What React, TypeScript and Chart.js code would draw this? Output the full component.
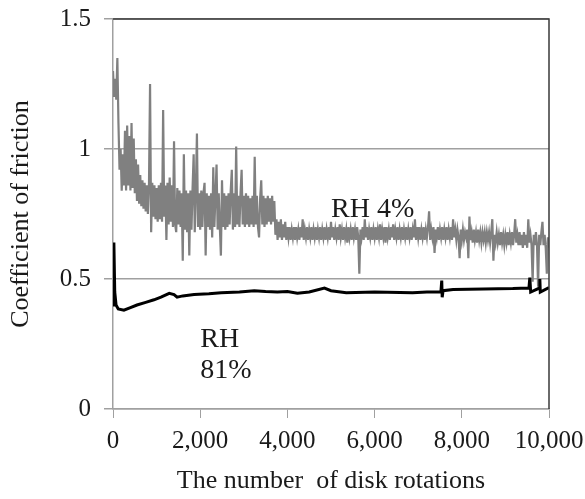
import React, { useEffect, useRef } from "react";
import { Chart, registerables } from "chart.js";

Chart.register(...registerables);

// RH 4% series: sampled every 25 disk rotations, 0 .. 10,000
const GRAY_STEP = 25;
const rh4Values: number[] = [
  // 0 .. 500
  1.30, 1.20, 1.27, 1.19, 1.35, 1.10, 0.92, 1.00, 0.84, 0.98,
  0.86, 1.07, 0.84, 1.09, 0.86, 1.05, 0.84, 1.10, 0.85, 1.04, 0.83,
  // 525 .. 1000
  0.96, 0.80, 0.94, 0.79, 0.90, 0.78, 0.88, 0.77, 0.87, 0.76,
  0.86, 0.75, 0.86, 1.25, 0.68, 0.87, 0.74, 0.86, 0.73, 0.85,
  // 1025 .. 1500
  0.72, 0.86, 0.73, 0.87, 0.72, 1.15, 0.74, 0.86, 0.65, 0.87,
  0.71, 0.89, 0.72, 0.86, 0.70, 1.03, 0.71, 0.68, 0.85, 0.71,
  // 1525 .. 2000
  0.84, 0.70, 0.83, 0.57, 0.98, 0.69, 0.84, 0.68, 0.83, 0.59,
  0.84, 0.69, 0.85, 0.98, 0.68, 0.84, 1.06, 0.70, 0.83, 0.69,
  // 2025 .. 2500
  0.84, 0.70, 0.83, 0.87, 0.59, 0.83, 0.70, 0.82, 0.69, 0.83,
  0.66, 0.93, 0.70, 0.82, 0.94, 0.69, 0.83, 0.70, 0.59, 0.88,
  // 2525 .. 3000
  0.70, 0.83, 0.69, 0.82, 0.70, 0.83, 0.71, 0.84, 0.92, 0.69,
  0.83, 0.70, 1.01, 0.71, 0.82, 0.70, 0.83, 0.92, 0.71, 0.82,
  // 3025 .. 3500
  0.70, 0.83, 0.71, 0.82, 0.70, 0.81, 0.71, 0.82, 0.70, 0.97,
  0.71, 0.82, 0.70, 0.66, 0.81, 0.88, 0.71, 0.82, 0.70, 0.81,
  // 3525 .. 4000
  0.71, 0.82, 0.72, 0.81, 0.71, 0.82, 0.72, 0.80, 0.67, 0.73,
  0.65, 0.72, 0.66, 0.73, 0.65, 0.71, 0.66, 0.72, 0.65, 0.70,
  // 4025 .. 4500
  0.66, 0.70, 0.65, 0.69, 0.66, 0.70, 0.65, 0.70, 0.66, 0.69,
  0.65, 0.70, 0.66, 0.73, 0.65, 0.69, 0.66, 0.70, 0.65, 0.69,
  // 4525 .. 5000
  0.66, 0.70, 0.65, 0.69, 0.66, 0.70, 0.65, 0.69, 0.66, 0.70,
  0.65, 0.69, 0.66, 0.70, 0.65, 0.69, 0.66, 0.70, 0.65, 0.72,
  // 5025 .. 5500
  0.66, 0.70, 0.65, 0.69, 0.66, 0.70, 0.65, 0.71, 0.66, 0.69,
  0.65, 0.70, 0.66, 0.69, 0.64, 0.70, 0.66, 0.69, 0.65, 0.70,
  // 5525 .. 6000
  0.66, 0.69, 0.65, 0.70, 0.66, 0.52, 0.69, 0.66, 0.70, 0.65,
  0.73, 0.66, 0.70, 0.65, 0.69, 0.66, 0.70, 0.65, 0.69, 0.66,
  // 6025 .. 6500
  0.70, 0.65, 0.69, 0.66, 0.71, 0.65, 0.69, 0.66, 0.70, 0.64,
  0.70, 0.66, 0.69, 0.65, 0.70, 0.66, 0.71, 0.65, 0.69, 0.66,
  // 6525 .. 7000
  0.70, 0.65, 0.69, 0.66, 0.70, 0.65, 0.69, 0.66, 0.70, 0.65,
  0.69, 0.66, 0.70, 0.65, 0.69, 0.66, 0.73, 0.65, 0.70, 0.66,
  // 7025 .. 7500
  0.70, 0.65, 0.69, 0.66, 0.70, 0.65, 0.69, 0.66, 0.70, 0.76,
  0.65, 0.69, 0.66, 0.70, 0.60, 0.69, 0.66, 0.70, 0.65, 0.69,
  // 7525 .. 8000
  0.66, 0.70, 0.65, 0.69, 0.66, 0.70, 0.65, 0.69, 0.66, 0.70,
  0.65, 0.73, 0.66, 0.69, 0.65, 0.69, 0.66, 0.58, 0.69, 0.65,
  // 8025 .. 8500
  0.69, 0.65, 0.68, 0.66, 0.69, 0.58, 0.74, 0.65, 0.68, 0.64,
  0.69, 0.65, 0.68, 0.64, 0.69, 0.65, 0.68, 0.64, 0.68, 0.65,
  // 8525 .. 9000
  0.68, 0.64, 0.68, 0.65, 0.68, 0.64, 0.68, 0.73, 0.57, 0.67,
  0.64, 0.68, 0.64, 0.67, 0.63, 0.68, 0.64, 0.67, 0.63, 0.67,
  // 9025 .. 9500
  0.64, 0.68, 0.63, 0.67, 0.64, 0.68, 0.63, 0.67, 0.73, 0.64,
  0.67, 0.63, 0.68, 0.63, 0.67, 0.62, 0.68, 0.63, 0.67, 0.62,
  // 9525 .. 10000
  0.73, 0.64, 0.67, 0.63, 0.49, 0.67, 0.63, 0.68, 0.63, 0.47,
  0.67, 0.63, 0.68, 0.72, 0.63, 0.67, 0.62, 0.52, 0.66, 0.62,
];

// RH 81% series
const rh81Rotations: number[] = [
  0, 20, 40, 70, 120, 250, 400, 550, 750, 940, 1100, 1290, 1400, 1470,
  1600, 1860, 2200, 2480, 2900, 3240, 3500, 3770, 4000, 4230, 4500, 4850,
  5000, 5350, 6000, 6870, 7200, 7520, 7540, 7550, 7570, 7800, 8500, 9170,
  9540, 9560, 9580, 9780, 9790, 9800, 10000,
];
const rh81Values: number[] = [
  0.40, 0.64, 0.45, 0.40, 0.385, 0.38, 0.39, 0.40, 0.41, 0.42, 0.43, 0.445, 0.44, 0.43,
  0.435, 0.44, 0.443, 0.447, 0.45, 0.455, 0.452, 0.45, 0.452, 0.445, 0.45, 0.465,
  0.455, 0.447, 0.45, 0.447, 0.45, 0.45, 0.494, 0.43, 0.455, 0.46, 0.462, 0.463,
  0.465, 0.505, 0.45, 0.465, 0.50, 0.45, 0.467,
];

const yTicks = [0, 0.5, 1, 1.5];
const xTicks = [0, 2000, 4000, 6000, 8000, 10000];

const SERIF = "'Liberation Serif', 'Times New Roman', serif";

export default function App() {
  const ref = useRef<HTMLCanvasElement | null>(null);

  useEffect(() => {
    document.body.style.margin = "0";
    const canvas = ref.current;
    if (!canvas) return;

    const grayData = rh4Values.map((v, i) => ({ x: i * GRAY_STEP, y: v }));
    const blackData = rh81Rotations.map((r, i) => ({ x: r, y: rh81Values[i] }));

    const annotations = {
      id: "annotations",
      afterDatasetsDraw(chart: any) {
        const { ctx, chartArea, scales } = chart;
        ctx.save();
        // top and right frame lines
        ctx.strokeStyle = "#3a3a3a";
        ctx.lineWidth = 1.5;
        ctx.beginPath();
        ctx.moveTo(chartArea.left, chartArea.top);
        ctx.lineTo(chartArea.right, chartArea.top);
        ctx.lineTo(chartArea.right, chartArea.bottom);
        ctx.stroke();
        // series labels
        ctx.fillStyle = "#1a1a1a";
        ctx.font = `28px ${SERIF}`;
        ctx.textAlign = "left";
        ctx.textBaseline = "alphabetic";
        ctx.fillText("RH 4%", scales.x.getPixelForValue(5000), scales.y.getPixelForValue(0.737));
        ctx.fillText("RH", scales.x.getPixelForValue(2000), scales.y.getPixelForValue(0.239));
        ctx.fillText("81%", scales.x.getPixelForValue(2000), scales.y.getPixelForValue(0.12));
        ctx.restore();
      },
    };

    const chart = new Chart(canvas, {
      type: "line",
      data: {
        datasets: [
          {
            label: "RH 81%",
            data: blackData,
            borderColor: "#000000",
            borderWidth: 3,
            pointRadius: 0,
            tension: 0,
            order: 0,
          },
          {
            label: "RH 4%",
            data: grayData,
            borderColor: "#808080",
            borderWidth: 2.2,
            pointRadius: 0,
            tension: 0,
            order: 1,
          },
        ],
      },
      options: {
        responsive: false,
        animation: false,
        devicePixelRatio: 1,
        layout: { padding: { left: 0, right: 36, top: 19, bottom: 0 } },
        plugins: {
          legend: { display: false },
          tooltip: { enabled: false },
        },
        scales: {
          x: {
            type: "linear",
            min: 0,
            max: 10000,
            afterBuildTicks: (scale: any) => {
              scale.ticks = xTicks.map((v) => ({ value: v }));
            },
            afterFit: (scale: any) => {
              scale.height = 90;
              scale.paddingLeft = 0;
              scale.paddingRight = 0;
            },
            ticks: {
              color: "#1a1a1a",
              font: { family: SERIF, size: 25 },
              padding: 8,
              maxRotation: 0,
              autoSkip: false,
              callback: (v: any) => Number(v).toLocaleString("en-US"),
            },
            grid: {
              drawOnChartArea: false,
              drawTicks: true,
              tickLength: 9,
              color: "#a0a0a0",
            },
            border: { color: "#a0a0a0", width: 1.5 },
            title: {
              display: true,
              text: "The number  of disk rotations",
              color: "#1a1a1a",
              font: { family: SERIF, size: 26 },
              padding: { top: 0, bottom: 2 },
            },
          },
          y: {
            type: "linear",
            min: 0,
            max: 1.5,
            afterBuildTicks: (scale: any) => {
              scale.ticks = yTicks.map((v) => ({ value: v }));
            },
            afterFit: (scale: any) => {
              scale.width = 113;
              scale.paddingTop = 0;
              scale.paddingBottom = 0;
            },
            ticks: {
              color: "#1a1a1a",
              font: { family: SERIF, size: 25 },
              padding: 13,
              callback: (v: any) => String(v),
            },
            grid: {
              drawTicks: true,
              tickLength: 9,
              color: "#a0a0a0",
              lineWidth: 1.5,
            },
            border: { color: "#a0a0a0", width: 1.5 },
            title: {
              display: true,
              text: "Coefficient of friction",
              color: "#1a1a1a",
              font: { family: SERIF, size: 26 },
              padding: { top: 6, bottom: 0 },
            },
          },
        },
      },
      plugins: [annotations],
    });

    return () => chart.destroy();
  }, []);

  return (
    <div style={{ width: 585, height: 499 }}>
      <canvas ref={ref} width={585} height={499} />
    </div>
  );
}
